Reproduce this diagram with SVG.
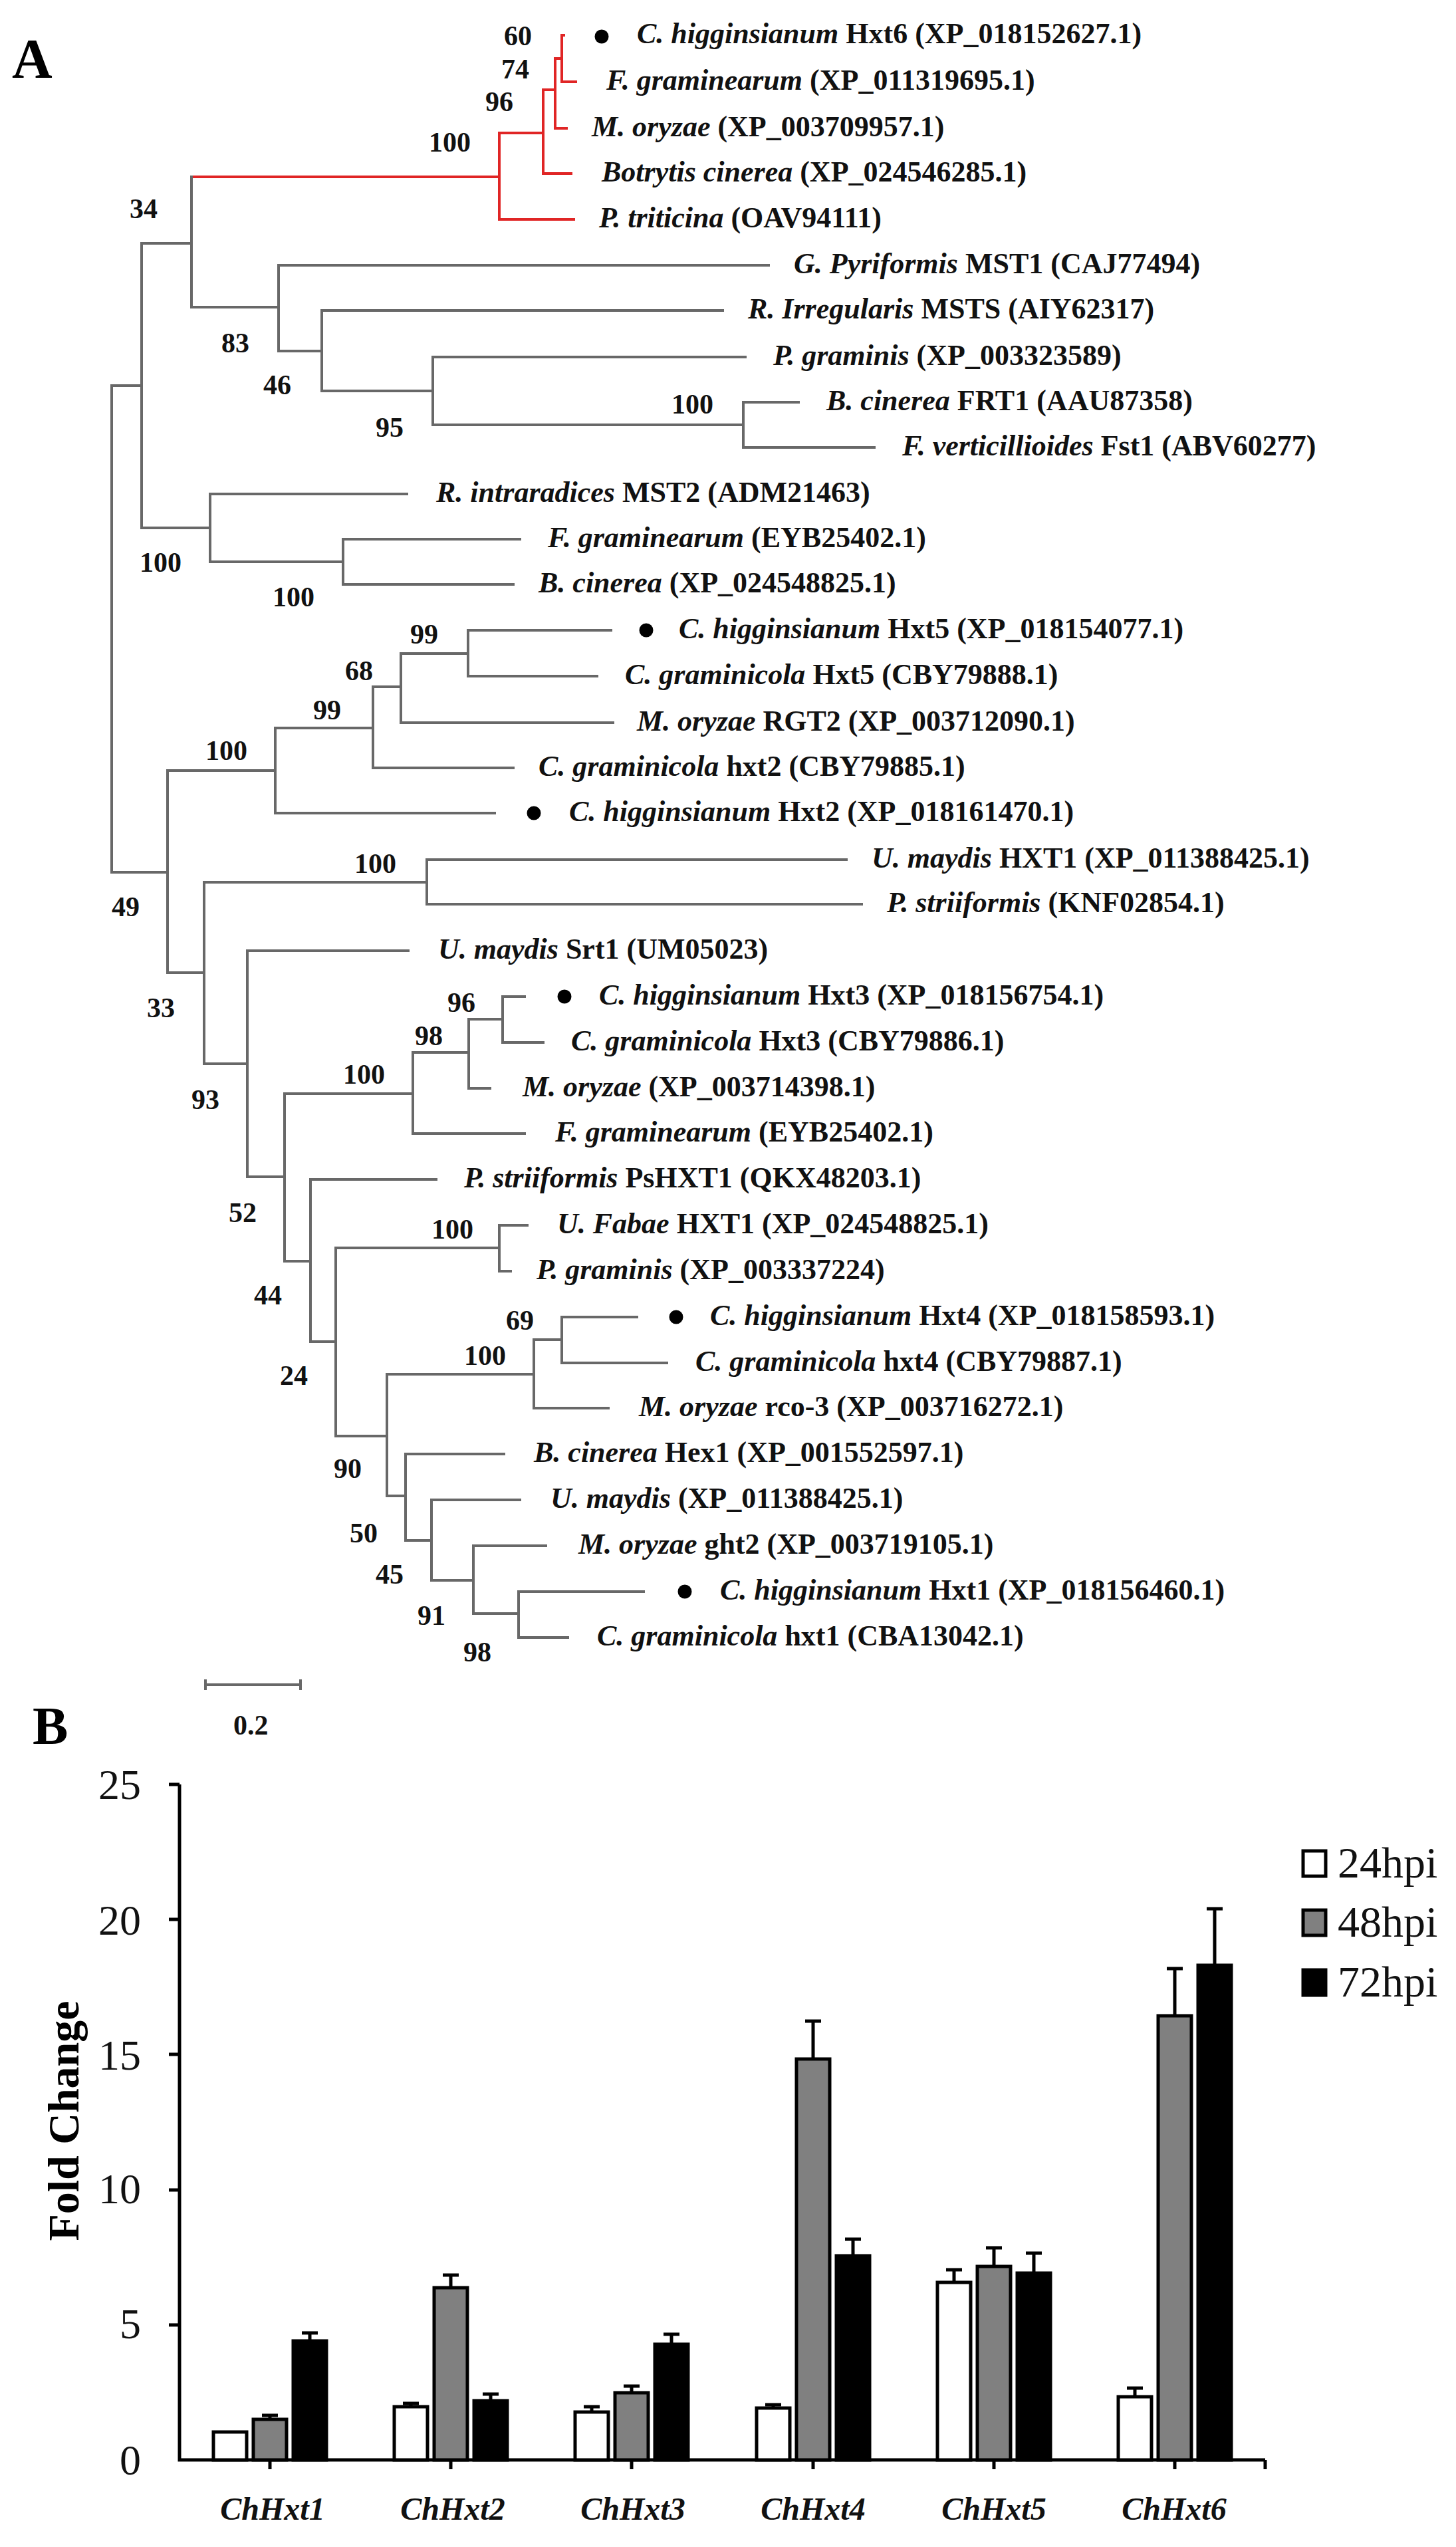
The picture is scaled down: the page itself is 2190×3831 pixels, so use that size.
<svg xmlns="http://www.w3.org/2000/svg" width="2190" height="3831" viewBox="0 0 2190 3831">
<style>
.t{font-family:"Liberation Serif","Times New Roman",serif;font-weight:bold;font-size:44px;fill:#111}
.t tspan.i{font-style:italic}
.bs{font-family:"Liberation Serif","Times New Roman",serif;font-weight:bold;font-size:42px;fill:#111}
.e{stroke:#686868;stroke-width:4;fill:none;stroke-linecap:square}
.r{stroke:#e02525;stroke-width:4;fill:none;stroke-linecap:square}
.dot{fill:#000}
.ax{stroke:#000;stroke-width:5;fill:none}
.bar{stroke:#000;stroke-width:5}
.err{stroke:#000;stroke-width:5;fill:none}
.tick{font-family:"Liberation Serif","Times New Roman",serif;font-size:64px;fill:#111}
.cat{font-family:"Liberation Serif","Times New Roman",serif;font-weight:bold;font-style:italic;font-size:48px;fill:#111}
.leg{font-family:"Liberation Serif","Times New Roman",serif;font-size:66px;fill:#111}
</style>
<rect width="2190" height="3831" fill="#fff"/>
<text x="18" y="117" font-family="Liberation Serif,serif" font-weight="bold" font-size="84">A</text>
<g id="connectors">
<path class="r" d="M288 266H751M751 200V330M751 200H817M751 330H863M817 135V261M817 135H835M817 261H859M835 88V193M835 88H845M835 193H852M845 53V123M845 53H848M845 123H866"/>
<path class="e" d="M288 266V462M213 366H288M288 462H419M419 399V528M419 399H1156M419 528H484M484 467V588M484 467H1087M484 588H651M651 537V639M651 537H1121M651 639H1118M1118 605V673M1118 605H1201M1118 673H1315
M213 366V794M168 580H213M213 794H316M316 743V845M316 743H612M316 845H516M516 811V879M516 811H782M516 879H772
M168 580V1312M168 1312H252M252 1159V1463M252 1159H414M414 1095V1223M414 1095H561M414 1223H744M561 1033V1155M561 1033H603M561 1155H772M603 983V1087M603 983H704M603 1087H922M704 948V1017M704 948H919M704 1017H898
M252 1463H307M307 1327V1600M307 1327H642M642 1293V1360M642 1293H1273M642 1360H1296M307 1600H372M372 1430V1770M372 1430H614M372 1770H428M428 1645V1897M428 1645H621M621 1583V1705M621 1583H705M705 1533V1637M705 1533H756M756 1499V1568M756 1499H789M756 1568H817M705 1637H737M621 1705H789
M428 1897H467M467 1774V2018M467 1774H656M467 2018H505M505 1877V2160M505 1877H751M751 1843V1912M751 1843H793M751 1912H768M505 2160H582M582 2067V2250M582 2067H803M803 2015V2118M803 2015H845M845 1981V2050M845 1981H958M845 2050H1003M803 2118H915M582 2250H610M610 2187V2317M610 2187H758M610 2317H649M649 2256V2377M649 2256H782M649 2377H712M712 2325V2427M712 2325H821M712 2427H780M780 2394V2463M780 2394H968M780 2463H854"/>
<path d="M309 2534H452M309 2526V2542M452 2526V2542" stroke="#686868" stroke-width="4" fill="none"/>
</g>
<g id="bootstrap">
<text class="bs" x="758" y="68">60</text>
<text class="bs" x="754" y="118">74</text>
<text class="bs" x="730" y="167">96</text>
<text class="bs" x="645" y="228">100</text>
<text class="bs" x="195" y="328">34</text>
<text class="bs" x="333" y="530">83</text>
<text class="bs" x="396" y="593">46</text>
<text class="bs" x="565" y="657">95</text>
<text class="bs" x="1010" y="622">100</text>
<text class="bs" x="210" y="860">100</text>
<text class="bs" x="410" y="912">100</text>
<text class="bs" x="617" y="968">99</text>
<text class="bs" x="519" y="1023">68</text>
<text class="bs" x="471" y="1082">99</text>
<text class="bs" x="309" y="1143">100</text>
<text class="bs" x="533" y="1313">100</text>
<text class="bs" x="168" y="1378">49</text>
<text class="bs" x="221" y="1530">33</text>
<text class="bs" x="288" y="1668">93</text>
<text class="bs" x="673" y="1522">96</text>
<text class="bs" x="624" y="1572">98</text>
<text class="bs" x="516" y="1630">100</text>
<text class="bs" x="344" y="1838">52</text>
<text class="bs" x="649" y="1863">100</text>
<text class="bs" x="382" y="1962">44</text>
<text class="bs" x="761" y="2000">69</text>
<text class="bs" x="698" y="2053">100</text>
<text class="bs" x="421" y="2083">24</text>
<text class="bs" x="502" y="2223">90</text>
<text class="bs" x="526" y="2320">50</text>
<text class="bs" x="565" y="2382">45</text>
<text class="bs" x="628" y="2444">91</text>
<text class="bs" x="697" y="2499">98</text>
<text class="bs" x="351" y="2609">0.2</text>
</g>
<g id="leaf0"><circle class="dot" cx="905" cy="55" r="10.5"/><text class="t" x="958" y="65"><tspan class="i">C. higginsianum</tspan> Hxt6 (XP_018152627.1)</text></g>
<g id="leaf1"><text class="t" x="912" y="135"><tspan class="i">F. graminearum</tspan> (XP_011319695.1)</text></g>
<g id="leaf2"><text class="t" x="890" y="205"><tspan class="i">M. oryzae</tspan> (XP_003709957.1)</text></g>
<g id="leaf3"><text class="t" x="905" y="273"><tspan class="i">Botrytis cinerea</tspan> (XP_024546285.1)</text></g>
<g id="leaf4"><text class="t" x="901" y="342"><tspan class="i">P. triticina</tspan> (OAV94111)</text></g>
<g id="leaf5"><text class="t" x="1194" y="411"><tspan class="i">G. Pyriformis</tspan> MST1 (CAJ77494)</text></g>
<g id="leaf6"><text class="t" x="1125" y="479"><tspan class="i">R. Irregularis</tspan> MSTS (AIY62317)</text></g>
<g id="leaf7"><text class="t" x="1163" y="549"><tspan class="i">P. graminis</tspan> (XP_003323589)</text></g>
<g id="leaf8"><text class="t" x="1243" y="617"><tspan class="i">B. cinerea</tspan> FRT1 (AAU87358)</text></g>
<g id="leaf9"><text class="t" x="1357" y="685"><tspan class="i">F. verticillioides</tspan> Fst1 (ABV60277)</text></g>
<g id="leaf10"><text class="t" x="656" y="755"><tspan class="i">R. intraradices</tspan> MST2 (ADM21463)</text></g>
<g id="leaf11"><text class="t" x="824" y="823"><tspan class="i">F. graminearum</tspan> (EYB25402.1)</text></g>
<g id="leaf12"><text class="t" x="810" y="891"><tspan class="i">B. cinerea</tspan> (XP_024548825.1)</text></g>
<g id="leaf13"><circle class="dot" cx="972" cy="948" r="10.5"/><text class="t" x="1021" y="960"><tspan class="i">C. higginsianum</tspan> Hxt5 (XP_018154077.1)</text></g>
<g id="leaf14"><text class="t" x="940" y="1029"><tspan class="i">C. graminicola</tspan> Hxt5 (CBY79888.1)</text></g>
<g id="leaf15"><text class="t" x="958" y="1099"><tspan class="i">M. oryzae</tspan> RGT2 (XP_003712090.1)</text></g>
<g id="leaf16"><text class="t" x="810" y="1167"><tspan class="i">C. graminicola</tspan> hxt2 (CBY79885.1)</text></g>
<g id="leaf17"><circle class="dot" cx="803" cy="1223" r="10.5"/><text class="t" x="856" y="1235"><tspan class="i">C. higginsianum</tspan> Hxt2 (XP_018161470.1)</text></g>
<g id="leaf18"><text class="t" x="1311" y="1305"><tspan class="i">U. maydis</tspan> HXT1 (XP_011388425.1)</text></g>
<g id="leaf19"><text class="t" x="1334" y="1372"><tspan class="i">P. striiformis</tspan> (KNF02854.1)</text></g>
<g id="leaf20"><text class="t" x="659" y="1442"><tspan class="i">U. maydis</tspan> Srt1 (UM05023)</text></g>
<g id="leaf21"><circle class="dot" cx="849" cy="1499" r="10.5"/><text class="t" x="901" y="1511"><tspan class="i">C. higginsianum</tspan> Hxt3 (XP_018156754.1)</text></g>
<g id="leaf22"><text class="t" x="859" y="1580"><tspan class="i">C. graminicola</tspan> Hxt3 (CBY79886.1)</text></g>
<g id="leaf23"><text class="t" x="786" y="1649"><tspan class="i">M. oryzae</tspan> (XP_003714398.1)</text></g>
<g id="leaf24"><text class="t" x="835" y="1717"><tspan class="i">F. graminearum</tspan> (EYB25402.1)</text></g>
<g id="leaf25"><text class="t" x="698" y="1786"><tspan class="i">P. striiformis</tspan> PsHXT1 (QKX48203.1)</text></g>
<g id="leaf26"><text class="t" x="838" y="1855"><tspan class="i">U. Fabae</tspan> HXT1 (XP_024548825.1)</text></g>
<g id="leaf27"><text class="t" x="807" y="1924"><tspan class="i">P. graminis</tspan> (XP_003337224)</text></g>
<g id="leaf28"><circle class="dot" cx="1017" cy="1981" r="10.5"/><text class="t" x="1068" y="1993"><tspan class="i">C. higginsianum</tspan> Hxt4 (XP_018158593.1)</text></g>
<g id="leaf29"><text class="t" x="1046" y="2062"><tspan class="i">C. graminicola</tspan> hxt4 (CBY79887.1)</text></g>
<g id="leaf30"><text class="t" x="961" y="2130"><tspan class="i">M. oryzae</tspan> rco-3 (XP_003716272.1)</text></g>
<g id="leaf31"><text class="t" x="803" y="2199"><tspan class="i">B. cinerea</tspan> Hex1 (XP_001552597.1)</text></g>
<g id="leaf32"><text class="t" x="828" y="2268"><tspan class="i">U. maydis</tspan> (XP_011388425.1)</text></g>
<g id="leaf33"><text class="t" x="870" y="2337"><tspan class="i">M. oryzae</tspan> ght2 (XP_003719105.1)</text></g>
<g id="leaf34"><circle class="dot" cx="1030" cy="2394" r="10.5"/><text class="t" x="1083" y="2406"><tspan class="i">C. higginsianum</tspan> Hxt1 (XP_018156460.1)</text></g>
<g id="leaf35"><text class="t" x="898" y="2475"><tspan class="i">C. graminicola</tspan> hxt1 (CBA13042.1)</text></g>
<g id="chart">
<text x="49" y="2623" font-family="Liberation Serif,serif" font-weight="bold" font-size="80">B</text>
<text transform="rotate(-90 118 3190)" x="118" y="3190" text-anchor="middle" font-family="Liberation Serif,serif" font-weight="bold" font-size="66">Fold Change</text>
<g class="tick" text-anchor="end">
<text x="212" y="2706">25</text><text x="212" y="2910">20</text><text x="212" y="3113">15</text><text x="212" y="3314">10</text><text x="212" y="3517">5</text><text x="212" y="3722">0</text>
</g>
<path class="ax" d="M270 2684V3700H1903M254 2684H270M254 2887H270M254 3090H270M254 3294H270M254 3497H270M406 3700V3714M678 3700V3714M950 3700V3714M1223 3700V3714M1495 3700V3714M1767 3700V3714M1903 3700V3714"/>
<g class="bar">
<rect x="321" y="3658" width="50" height="42" fill="#fff"/><rect x="381" y="3639" width="50" height="61" fill="#808080"/><rect x="441" y="3521" width="50" height="179" fill="#000"/>
<rect x="593" y="3620" width="50" height="80" fill="#fff"/><rect x="653" y="3441" width="50" height="259" fill="#808080"/><rect x="713" y="3611" width="50" height="89" fill="#000"/>
<rect x="865" y="3628" width="50" height="72" fill="#fff"/><rect x="925" y="3599" width="50" height="101" fill="#808080"/><rect x="985" y="3526" width="50" height="174" fill="#000"/>
<rect x="1138" y="3622" width="50" height="78" fill="#fff"/><rect x="1198" y="3097" width="50" height="603" fill="#808080"/><rect x="1258" y="3393" width="50" height="307" fill="#000"/>
<rect x="1410" y="3433" width="50" height="267" fill="#fff"/><rect x="1470" y="3409" width="50" height="291" fill="#808080"/><rect x="1530" y="3419" width="50" height="281" fill="#000"/>
<rect x="1682" y="3605" width="50" height="95" fill="#fff"/><rect x="1742" y="3032" width="50" height="668" fill="#808080"/><rect x="1802" y="2956" width="50" height="744" fill="#000"/>
</g>
<path class="err" d="M406 3639V3633M394 3633H418M466 3521V3509M454 3509H478
M618 3620V3615M606 3615H630M678 3441V3422M666 3422H690M738 3611V3601M726 3601H750
M890 3628V3620M878 3620H902M950 3599V3589M938 3589H962M1010 3526V3511M998 3511H1022
M1163 3622V3617M1151 3617H1175M1223 3097V3040M1211 3040H1235M1283 3393V3368M1271 3368H1295
M1435 3433V3414M1423 3414H1447M1495 3409V3381M1483 3381H1507M1555 3419V3389M1543 3389H1567
M1707 3605V3592M1695 3592H1719M1767 3032V2961M1755 2961H1779M1827 2956V2871M1815 2871H1839"/>
<g class="cat" text-anchor="middle">
<text x="410" y="3790">ChHxt1</text><text x="681" y="3790">ChHxt2</text><text x="952" y="3790">ChHxt3</text><text x="1223" y="3790">ChHxt4</text><text x="1495" y="3790">ChHxt5</text><text x="1766" y="3790">ChHxt6</text>
</g>
</g>
<g id="legend">
<rect x="1960" y="2784" width="34" height="38" fill="#fff" stroke="#000" stroke-width="5"/>
<rect x="1960" y="2873" width="34" height="38" fill="#808080" stroke="#000" stroke-width="5"/>
<rect x="1960" y="2963" width="34" height="38" fill="#000" stroke="#000" stroke-width="5"/>
<text class="leg" x="2012" y="2824">24hpi</text>
<text class="leg" x="2012" y="2913">48hpi</text>
<text class="leg" x="2012" y="3003">72hpi</text>
</g>
</svg>
